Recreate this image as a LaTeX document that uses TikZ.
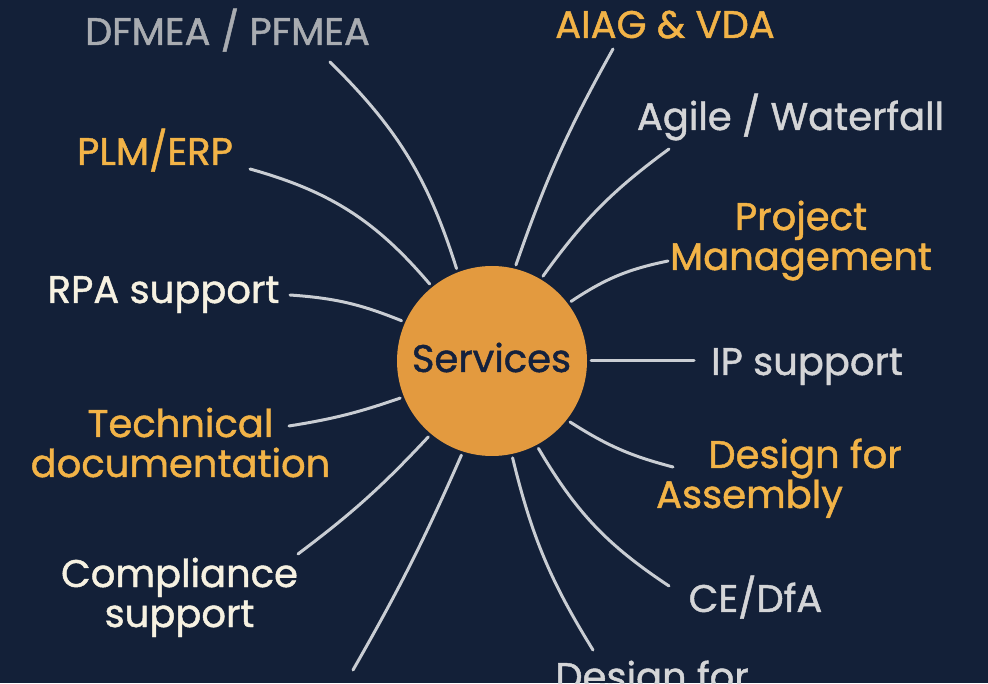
\documentclass[tikz,border=0pt]{standalone}
\usepackage{fontspec}
\setmainfont{Poppins}[BoldFont=Poppins, BoldFeatures={FakeBold=1.2}]
\definecolor{bgnavy}{HTML}{132038}
\definecolor{hub}{HTML}{E39A3F}
\definecolor{hubtext}{HTML}{14213D}
\definecolor{gold}{HTML}{F2B347}
\definecolor{greyA}{HTML}{A9ACB1}
\definecolor{greyB}{HTML}{D4D5D7}
\definecolor{cream}{HTML}{F6F1E1}
\definecolor{linec}{HTML}{C9CDD3}
\begin{document}
\begin{tikzpicture}[x=1pt,y=1pt,
  lbl/.style={font=\fontsize{38.5}{40}\selectfont\bfseries, inner sep=0pt, anchor=base, align=center},
  link/.style={draw=linec, line width=3pt, line cap=round},
]
% canvas
\path[use as bounding box, fill=bgnavy] (0,0) rectangle (988,683);
\clip (0,0) rectangle (988,683);

% central hub
\node[circle, fill=hub, minimum size=190pt, inner sep=0pt, outer sep=4pt] (svc) at (492,322) {};
\node[lbl, text=hubtext] (svct) at (491.5,311) {Services};

% labels (multi-line labels are placed by the baseline of their last line)
\node[lbl, text=greyA] (dfmea) at (227.5,638) {DFMEA / PFMEA};
\node[lbl, text=gold]  (aiag)  at (665,645) {AIAG \& VDA};
\node[lbl, text=greyB] (agile) at (790.5,553) {Agile / Waterfall};
\node[lbl, text=gold]  (pm)    at (801,413) {Project\\Management};
\node[lbl, text=gold]  (plm)   at (155,518) {PLM/ERP};
\node[lbl, text=cream] (rpa)   at (163.5,380) {RPA support};
\node[lbl, text=greyB] (ip)    at (807,308) {IP support};
\node[lbl, text=gold]  (tech)  at (180.5,206) {Technical\\documentation};
\node[lbl, text=gold]  (dfa)   at (805,215) {Design for};
\node[lbl, text=gold]  (dfab)  at (749.5,175) {Assembly};
\node[lbl, text=cream] (comp)  at (179.5,56) {Compliance\\support};
\node[lbl, text=greyB] (ce)    at (755.5,71) {CE/DfA};
\node[lbl, text=greyB] (dfm)   at (652,-7) {Design for};

% free ends of the spokes
\coordinate (e-dfmea) at (330,621);
\coordinate (e-plm)   at (250,514);
\coordinate (e-rpa)   at (290,388);
\coordinate (e-aiag)  at (613,634);
\coordinate (e-agile) at (669,534);
\coordinate (e-pm)    at (668,422);
\coordinate (e-ip)    at (694,322);
\coordinate (e-dfa)   at (673,216);
\coordinate (e-ce)    at (669,97);
\coordinate (e-dfm)   at (593,33);
\coordinate (e-low)   at (353,13);
\coordinate (e-comp)  at (298,129);
\coordinate (e-tech)  at (289,257);

% spokes
\draw[link] (svc.111.7)  to[bend right=14] (e-dfmea);
\draw[link] (svc.129.7)  to[bend right=17] (e-plm);
\draw[link] (svc.156.5)  to[bend right=9]  (e-rpa);
\draw[link] (svc.76)     to[bend left=5]   (e-aiag);
\draw[link] (svc.59.5)   to[bend left=9]   (e-agile);
\draw[link] (svc.37.6)   to[bend left=11]  (e-pm);
\draw[link] (svc.0)      --                (e-ip);
\draw[link] (svc.-38.7)  to[bend right=9]  (e-dfa);
\draw[link] (svc.-62.6)  to[bend right=13] (e-ce);
\draw[link] (svc.-78.8)  to[bend right=9]  (e-dfm);
\draw[link] (svc.-108.8) to[bend left=3]   (e-low);
\draw[link] (svc.-130)   to[bend left=5]   (e-comp);
\draw[link] (svc.-158.6) to[bend left=5]   (e-tech);
\end{tikzpicture}
\end{document}
